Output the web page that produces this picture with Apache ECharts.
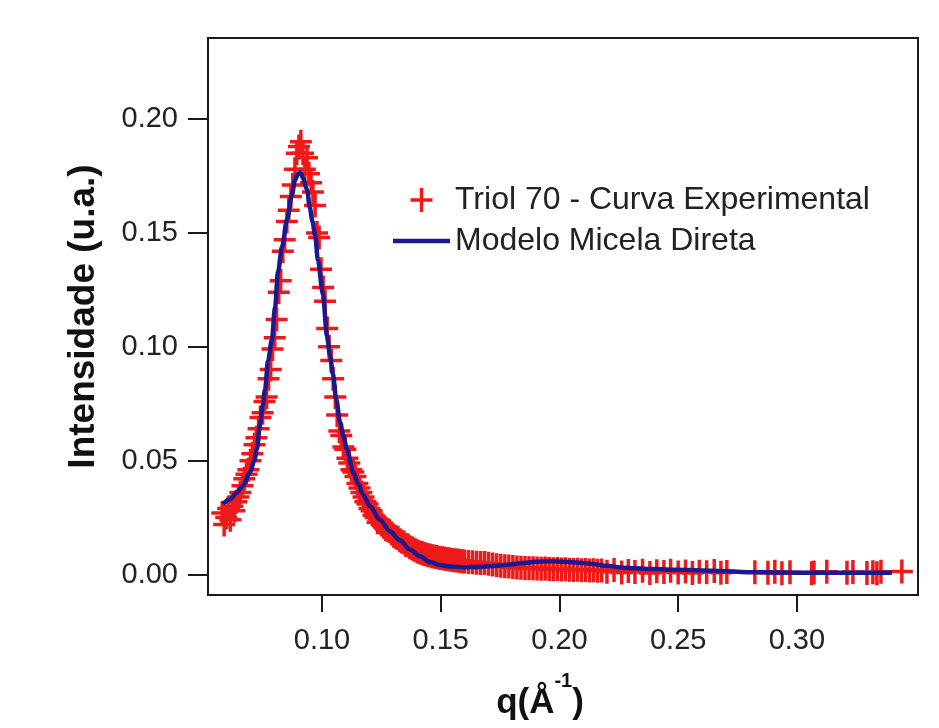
<!DOCTYPE html>
<html>
<head>
<meta charset="utf-8">
<script src="https://cdn.jsdelivr.net/npm/echarts@6/dist/echarts.min.js"></script>
<style>
  html, body { margin: 0; padding: 0; background: #fff; }
  #chart { width: 939px; height: 728px; }
</style>
</head>
<body>
<div id="chart"></div>
<script>
// tick values on both axes
const xTicks = [0.10, 0.15, 0.20, 0.25, 0.30]
const yTicks = [0.00, 0.05, 0.10, 0.15, 0.20]

const seriesNames = ['Triol 70 - Curva Experimental', 'Modelo Micela Direta']

// [q, I] experimental points
const experimental = [
  [0.0580, 0.027], [0.0588, 0.022], [0.0597, 0.025], [0.0605, 0.029], [0.0614, 0.024],
  [0.0622, 0.030], [0.0631, 0.028], [0.0639, 0.032], [0.0648, 0.034], [0.0656, 0.036],
  [0.0665, 0.039], [0.0673, 0.042], [0.0682, 0.044], [0.0690, 0.046], [0.0699, 0.050],
  [0.0707, 0.053], [0.0716, 0.057], [0.0724, 0.060], [0.0733, 0.064], [0.0741, 0.069],
  [0.0750, 0.071], [0.0758, 0.076], [0.0767, 0.078], [0.0775, 0.086], [0.0784, 0.090],
  [0.0792, 0.099], [0.0801, 0.104], [0.0809, 0.112], [0.0818, 0.124], [0.0826, 0.129],
  [0.0835, 0.142], [0.0843, 0.147], [0.0852, 0.155], [0.0860, 0.160], [0.0869, 0.166],
  [0.0877, 0.171], [0.0886, 0.178], [0.0894, 0.185], [0.0903, 0.188], [0.0911, 0.190],
  [0.0920, 0.185], [0.0928, 0.178], [0.0937, 0.183], [0.0945, 0.176], [0.0954, 0.172],
  [0.0962, 0.168], [0.0971, 0.162], [0.0979, 0.150], [0.0988, 0.148], [0.0996, 0.134],
  [0.1005, 0.126], [0.1013, 0.120], [0.1022, 0.108], [0.1030, 0.100], [0.1039, 0.094],
  [0.1047, 0.086], [0.1056, 0.078], [0.1064, 0.070], [0.1073, 0.063], [0.1081, 0.061],
  [0.1090, 0.056], [0.1098, 0.055], [0.1107, 0.051], [0.1115, 0.049], [0.1124, 0.046],
  [0.1132, 0.045], [0.1141, 0.043], [0.1149, 0.040], [0.1158, 0.038], [0.1166, 0.036],
  [0.1175, 0.034], [0.1183, 0.032], [0.1192, 0.031], [0.1200, 0.029], [0.1209, 0.028],
  [0.1217, 0.026], [0.1226, 0.025], [0.1234, 0.023], [0.1243, 0.023], [0.1251, 0.022],
  [0.1260, 0.021], [0.1268, 0.020], [0.1277, 0.0195], [0.1285, 0.019], [0.1294, 0.018],
  [0.1302, 0.017], [0.1311, 0.0165], [0.1319, 0.016], [0.1328, 0.015], [0.1336, 0.0145],
  [0.1345, 0.014], [0.1353, 0.013], [0.1362, 0.0128], [0.1370, 0.012], [0.1379, 0.0115],
  [0.1387, 0.011], [0.1396, 0.0105], [0.1404, 0.010], [0.1413, 0.0097], [0.1421, 0.0094],
  [0.1430, 0.0090], [0.1438, 0.0088], [0.1447, 0.0085], [0.1455, 0.0083], [0.1464, 0.0080],
  [0.1472, 0.0079], [0.1481, 0.0077], [0.1489, 0.0075], [0.1498, 0.0073], [0.1506, 0.0071],
  [0.1515, 0.0070], [0.1523, 0.0068], [0.1532, 0.0067], [0.1540, 0.0066], [0.1549, 0.0064],
  [0.1557, 0.0063], [0.1566, 0.0062], [0.1574, 0.0061], [0.1583, 0.0059], [0.1591, 0.0058],
  [0.1600, 0.0057], [0.1617, 0.0055], [0.1634, 0.0054], [0.1651, 0.0052], [0.1668, 0.0051],
  [0.1685, 0.0050], [0.1702, 0.0047], [0.1719, 0.0044], [0.1736, 0.0041], [0.1753, 0.0038],
  [0.1770, 0.0036], [0.1787, 0.0035], [0.1804, 0.0033], [0.1821, 0.0031], [0.1838, 0.0030],
  [0.1855, 0.0029], [0.1872, 0.0028], [0.1889, 0.0027], [0.1906, 0.0026], [0.1923, 0.0025],
  [0.1940, 0.0026], [0.1957, 0.0024], [0.1974, 0.0023], [0.1991, 0.0024], [0.2008, 0.0022],
  [0.2025, 0.0023], [0.2042, 0.0021], [0.2059, 0.0020], [0.2076, 0.0021], [0.2093, 0.0019],
  [0.2110, 0.0020], [0.2127, 0.0018], [0.2144, 0.0019], [0.2161, 0.0017], [0.2178, 0.0018],
  [0.2200, 0.0012], [0.2230, 0.0020], [0.2262, 0.0009], [0.2290, 0.0015], [0.2318, 0.0011],
  [0.2350, 0.0017], [0.2381, 0.0007], [0.2410, 0.0014], [0.2440, 0.0011], [0.2468, 0.0016],
  [0.2500, 0.0009], [0.2531, 0.0013], [0.2560, 0.0007], [0.2589, 0.0012], [0.2620, 0.0010],
  [0.2652, 0.0015], [0.2680, 0.0008], [0.2705, 0.0011], [0.2823, 0.0010], [0.2878, 0.0008],
  [0.2907, 0.0012], [0.2937, 0.0006], [0.2971, 0.0010], [0.3062, 0.0005], [0.3072, 0.0009],
  [0.3126, 0.0012], [0.3211, 0.0008], [0.3236, 0.0011], [0.3295, 0.0007], [0.3320, 0.0010],
  [0.3337, 0.0006], [0.3354, 0.0012], [0.3442, 0.0013]
]

// [q, I] fitted model curve
const model = [
  [0.0583, 0.031], [0.0613, 0.033], [0.0642, 0.036], [0.0667, 0.039], [0.0697, 0.045],
  [0.0715, 0.050], [0.0726, 0.055], [0.0739, 0.066], [0.0750, 0.074], [0.0760, 0.081],
  [0.0773, 0.094], [0.0789, 0.103], [0.0802, 0.117], [0.0815, 0.133], [0.0832, 0.144],
  [0.0853, 0.156], [0.0874, 0.167], [0.0886, 0.173], [0.0899, 0.176], [0.0910, 0.1765],
  [0.0920, 0.174], [0.0937, 0.169], [0.0949, 0.161], [0.0960, 0.155], [0.0971, 0.149],
  [0.0983, 0.138], [0.1004, 0.123], [0.1021, 0.105], [0.1034, 0.096], [0.1046, 0.088],
  [0.1060, 0.077], [0.1076, 0.067], [0.1090, 0.061], [0.1105, 0.055], [0.1131, 0.045],
  [0.1152, 0.040], [0.1173, 0.035], [0.1202, 0.030], [0.1244, 0.024], [0.1286, 0.019],
  [0.1328, 0.015], [0.1370, 0.011], [0.1413, 0.008], [0.1455, 0.0055], [0.1497, 0.0042],
  [0.1540, 0.0035], [0.1600, 0.0032], [0.1660, 0.0033], [0.1720, 0.0037], [0.1780, 0.0043],
  [0.1840, 0.0050], [0.1900, 0.0056], [0.1960, 0.0058], [0.2020, 0.0056], [0.2080, 0.0052],
  [0.2140, 0.0046], [0.2200, 0.0038], [0.2260, 0.0031], [0.2320, 0.0027], [0.2400, 0.0024],
  [0.2500, 0.0021], [0.2600, 0.0018], [0.2700, 0.0014], [0.2800, 0.0010], [0.2900, 0.0009],
  [0.3000, 0.0008], [0.3200, 0.0008], [0.3400, 0.0008]
]

const plusIcon = 'path://M0,10.25H22V13.75H0Z M9.25,0H12.75V24H9.25Z'
const lineIcon = 'path://M0,0H57V4.5H0Z'
const axisColor = '#1a1a1a'
const red = '#ee1a1a'
const navy = '#1a1a8e'

const chart = echarts.init(document.getElementById('chart'))

chart.setOption({
  animation: false,
  textStyle: { fontFamily: 'Liberation Sans, Arial, sans-serif' },
  grid: {
    left: 208, right: 21, top: 38, bottom: 133,
    show: true, borderColor: axisColor, borderWidth: 2
  },
  legend: {
    orient: 'vertical',
    left: 388,
    top: 179,
    itemWidth: 57,
    itemHeight: 24,
    itemGap: 9,
    textStyle: { fontSize: 32, color: '#222' },
    data: [
      { name: seriesNames[0], icon: plusIcon, itemStyle: { color: red } },
      { name: seriesNames[1], icon: lineIcon, itemStyle: { color: navy } }
    ]
  },
  xAxis: {
    type: 'value',
    min: 0.052,
    max: 0.351,
    name: '{b|q(Å}{s|-1}{b|)}',
    nameLocation: 'middle',
    nameGap: 76,
    nameTextStyle: {
      padding: [0, 46, 0, 0],
      rich: {
        b: { fontSize: 35, fontWeight: 'bold', color: '#111', verticalAlign: 'bottom', lineHeight: 50 },
        s: { fontSize: 20, fontWeight: 'bold', color: '#111', verticalAlign: 'top', lineHeight: 22 }
      }
    },
    axisLine: { onZero: false, lineStyle: { color: axisColor, width: 2 } },
    axisTick: { customValues: xTicks, length: 17, lineStyle: { color: axisColor, width: 2 } },
    axisLabel: {
      customValues: xTicks,
      margin: 31,
      fontSize: 29,
      color: '#222',
      formatter: v => v.toFixed(2)
    },
    splitLine: { show: false }
  },
  yAxis: {
    type: 'value',
    min: -0.009,
    max: 0.2356,
    name: 'Intensidade (u.a.)',
    nameLocation: 'middle',
    nameGap: 106,
    nameTextStyle: { fontSize: 37, fontWeight: 'bold', color: '#111' },
    axisLine: { onZero: false, lineStyle: { color: axisColor, width: 2 } },
    axisTick: { customValues: yTicks, length: 20, lineStyle: { color: axisColor, width: 2 } },
    axisLabel: {
      customValues: yTicks,
      margin: 30,
      fontSize: 29,
      color: '#222',
      formatter: v => v.toFixed(2)
    },
    splitLine: { show: false }
  },
  series: [
    {
      name: seriesNames[0],
      type: 'scatter',
      data: experimental,
      symbol: plusIcon,
      symbolSize: [22, 24],
      itemStyle: { color: red, opacity: 1 },
      z: 2
    },
    {
      name: seriesNames[1],
      type: 'line',
      data: model,
      symbol: 'none',
      smooth: 0.3,
      smoothMonotone: 'x',
      lineStyle: { color: navy, width: 4.5 },
      itemStyle: { color: navy },
      z: 3
    }
  ]
})
</script>
</body>
</html>
